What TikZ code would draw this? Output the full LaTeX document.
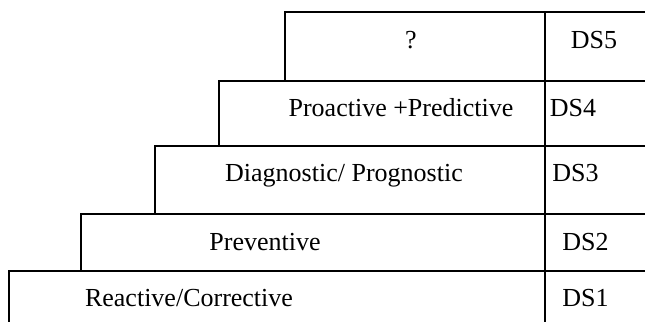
\documentclass[tikz,border=0pt]{standalone}
\usepackage{fontspec}
\setmainfont{Liberation Serif}
\usetikzlibrary{positioning}

\begin{document}
\begin{tikzpicture}[x=0.5pt, y=-0.5pt, line width=1pt,
    stepbox/.style={draw, rectangle, inner sep=0pt, outer sep=0pt, anchor=north west},
    lbl/.style={font=\fontsize{13}{15}\selectfont, inner sep=0pt, anchor=base}]
    \useasboundingbox (0,0) rectangle (645,322);
    % the steps and their DS cells
    \foreach \n/\xl/\yt/\yb in {5/285/11.7/81, 4/219/81/146, 3/155.5/146/214, 2/81/214/271, 1/9/271/340}{
        \node[stepbox, minimum width=(545-\xl)*0.5pt, minimum height=(\yb-\yt)*0.5pt] (step\n) at (\xl,\yt) {};
        \node[stepbox, minimum width=70pt, minimum height=(\yb-\yt)*0.5pt] (cell\n) at (545,\yt) {};
    }
    \foreach \n/\x/\y/\txt in {5/411/48/?, 4/401/116/{Proactive +Predictive}, 3/344/181/{Diagnostic/ Prognostic}, 2/265/250/Preventive, 1/189/306/{Reactive/Corrective}}
        \node[lbl] (name\n) at (\x,\y) {\txt};
    \foreach \n/\x/\y in {5/594/48, 4/573/116, 3/575.5/181, 2/585.5/250, 1/585.5/306}
        \node[lbl] (ds\n) at (\x,\y) {DS\n};
\end{tikzpicture}
\end{document}
